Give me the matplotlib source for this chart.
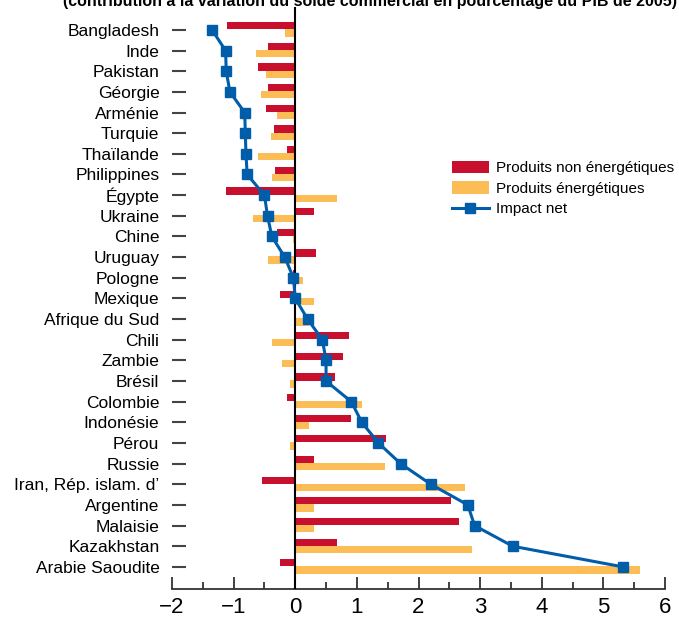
import matplotlib
matplotlib.use("Agg")
import matplotlib.pyplot as plt
import numpy as np
from matplotlib.lines import Line2D
from matplotlib.patches import Patch

countries = [
    "Bangladesh", "Inde", "Pakistan", "Géorgie", "Arménie", "Turquie", "Thaïlande",
    "Philippines", "Égypte", "Ukraine", "Chine", "Uruguay", "Pologne", "Mexique",
    "Afrique du Sud", "Chili", "Zambie", "Brésil", "Colombie", "Indonésie", "Pérou",
    "Russie", "Iran, Rép. islam. d’", "Argentine", "Malaisie", "Kazakhstan",
    "Arabie Saoudite",
]
non_energy = [
    -1.11, -0.45, -0.60, -0.45, -0.48, -0.35, -0.14, -0.33, -1.13, 0.30, -0.29, 0.33,
    -0.04, -0.24, 0.0, 0.87, 0.78, 0.64, -0.13, 0.90, 1.48, 0.30, -0.54, 2.53, 2.65,
    0.68, -0.25,
]
energy = [
    -0.17, -0.63, -0.47, -0.55, -0.29, -0.40, -0.61, -0.38, 0.68, -0.69, -0.03, -0.45,
    0.12, 0.30, 0.22, -0.37, -0.22, -0.08, 1.08, 0.23, -0.09, 1.46, 2.76, 0.30, 0.30,
    2.86, 5.59,
]
net = [
    -1.35, -1.13, -1.12, -1.06, -0.82, -0.81, -0.80, -0.78, -0.50, -0.45, -0.38, -0.17,
    -0.03, 0.0, 0.20, 0.44, 0.50, 0.50, 0.91, 1.08, 1.35, 1.71, 2.20, 2.80, 2.91,
    3.53, 5.32,
]
title = "(contribution à la variation du solde commercial en pourcentage du PIB de 2005)"

RED = "#C8102E"
ORANGE = "#FDBD56"
BLUE = "#005DAA"
GREY = "#333333"
plt.rcParams["font.family"] = ["Liberation Sans", "DejaVu Sans"]

fig = plt.figure(figsize=(6.79, 6.20), dpi=100)
ax = fig.add_axes([0.2533, 0.05, 0.7261, 0.9387])

y = np.arange(len(countries))
ax.barh(y - 0.20, non_energy, height=0.35, color=RED, zorder=2)
ax.barh(y + 0.145, energy, height=0.35, color=ORANGE, zorder=2)
ax.axvline(0, color="black", linewidth=1.5, zorder=3)
ax.plot(net, y, color=BLUE, linewidth=2.2, marker="s", markersize=7.5, zorder=4)

ax.set_xlim(-2, 6)
ax.set_ylim(len(countries) - 1 + 1.07, -1.11)
ax.set_yticks(y)
ax.set_yticklabels(countries, fontsize=12.5)
ax.set_xticks(range(-2, 7))
ax.set_xticklabels(["−2", "−1", "0", "1", "2", "3", "4", "5", "6"], fontsize=16)
ax.set_xticks(np.arange(-1.5, 6, 1.0), minor=True)

for side in ("top", "right", "left"):
    ax.spines[side].set_visible(False)
ax.spines["bottom"].set_color(GREY)
ax.spines["bottom"].set_linewidth(1.3)
ax.tick_params(axis="x", which="major", direction="in", length=9, width=1.3, color=GREY, pad=6)
ax.tick_params(axis="x", which="minor", direction="in", length=5, width=1.3, color=GREY)
ax.tick_params(axis="y", direction="in", length=10, width=1.5, color="#444444", pad=9)

handles = [
    Patch(facecolor=RED, edgecolor="none"),
    Patch(facecolor=ORANGE, edgecolor="none"),
    Line2D([], [], color=BLUE, linewidth=2.2, marker="s", markersize=7.5),
]
labels = ["Produits non énergétiques", "Produits énergétiques", "Impact net"]
fig.legend(handles, labels, loc="upper left", bbox_to_anchor=(452 / 679, 1 - 161 / 620),
           frameon=False, fontsize=11, handlelength=2.4, handleheight=0.85,
           handletextpad=0.45, labelspacing=0.4, borderpad=0, borderaxespad=0)

fig.text(370 / 679, 1 - 6 / 620, title, ha="center", va="baseline", fontsize=11.5,
         fontweight="bold")

fig.savefig("out.png", dpi=100)
